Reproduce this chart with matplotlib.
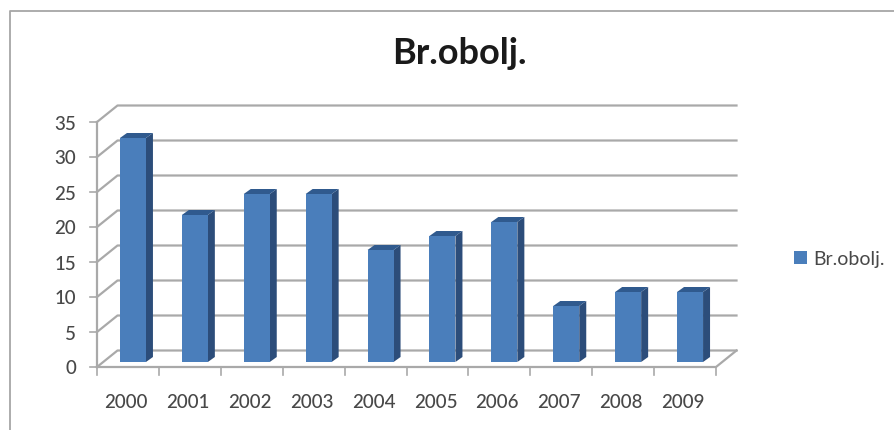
import matplotlib
matplotlib.use('Agg')
import matplotlib.pyplot as plt
from matplotlib.patches import Polygon, Patch

years = ['2000', '2001', '2002', '2003', '2004', '2005', '2006', '2007', '2008', '2009']
values = [32, 21, 24, 24, 16, 18, 20, 8, 10, 10]
yticks = [0, 5, 10, 15, 20, 25, 30, 35]

W, H = 895, 430
plt.rcParams['font.family'] = ['Lato', 'DejaVu Sans']

fig = plt.figure(figsize=(W / 100, H / 100), dpi=100)

# outer chart frame, only left and top edges are visible
fig.add_artist(plt.Line2D([10 / W, 10 / W, 1], [0, 1 - 11 / H, 1 - 11 / H], color='#a6a6a6', lw=1.3))

# front box of the plot, the 3d depth is added by hand
ax = fig.add_axes([97 / W, 1 - 367 / H, 619 / W, 245 / H])
ax.set_xlim(-0.5, 9.5)
ax.set_ylim(0, 35)
ax.axis('off')

px = 619 / 10   # pixels per category
py = 245 / 35   # pixels per unit
depth_x = 20.5 / px
depth_y = 16.5 / py
grid = '#a9a9a9'
lw = 1.6
label_color = '#484848'

for v in yticks:
    # wall lines and tick
    ax.plot([-0.5, -0.5 + depth_x, 9.5 + depth_x], [v, v + depth_y, v + depth_y], color=grid, lw=lw, clip_on=False, zorder=1)
    ax.plot([-0.5 - 7 / px, -0.5], [v, v], color=grid, lw=1.2, clip_on=False, zorder=1)
    ax.text(-0.5 - 21 / px, v - 2 / py, str(v), ha='right', va='center', fontsize=13.5, color=label_color, fontweight='medium')

# left axis, floor edges
ax.plot([-0.5, -0.5], [0, 35], color=grid, lw=lw, clip_on=False, zorder=1)
ax.plot([-0.5, 9.5, 9.5 + depth_x], [0, 0, depth_y], color=grid, lw=lw, clip_on=False, zorder=1)

for i in range(len(years) + 1):
    ax.plot([i - 0.5, i - 0.5], [0, -8 / py], color=grid, lw=1.2, clip_on=False, zorder=1)

bar_w = 26 / px
off_x = 5 / px
off_y = 5 / py
side_x = 7 / px
side_y = 5 / py

for i, v in enumerate(values):
    l = i + off_x - bar_w / 2
    r = l + bar_w
    b = off_y
    t = v + off_y
    ax.add_patch(Polygon([(r, b), (r + side_x, b + side_y), (r + side_x, t + side_y), (r, t)], fc='#2c4d7a', ec='none', clip_on=False, zorder=3))
    ax.add_patch(Polygon([(l, t), (l + side_x, t + side_y), (r + side_x, t + side_y), (r, t)], fc='#305a8e', ec='none', clip_on=False, zorder=3))
    ax.add_patch(Polygon([(l, b), (r, b), (r, t), (l, t)], fc='#4a7ebb', ec='none', clip_on=False, zorder=4))
    ax.text(i - 2 / px, -36 / py, years[i], ha='center', va='center', fontsize=13.5, color=label_color, fontweight='medium')

fig.text(459 / W, 1 - 53 / H, 'Br.obolj.', ha='center', va='center', fontsize=26, fontweight='bold', color='#1a1a1a')

fig.legend(handles=[Patch(fc='#4a7ebb', ec='none', label='Br.obolj.')], loc='center left',
           bbox_to_anchor=(777 / W, 1 - 259 / H), frameon=False, fontsize=14,
           labelcolor=label_color, handlelength=0.62, handleheight=0.62, handletextpad=0.36)

fig.savefig('out.png', dpi=100)
